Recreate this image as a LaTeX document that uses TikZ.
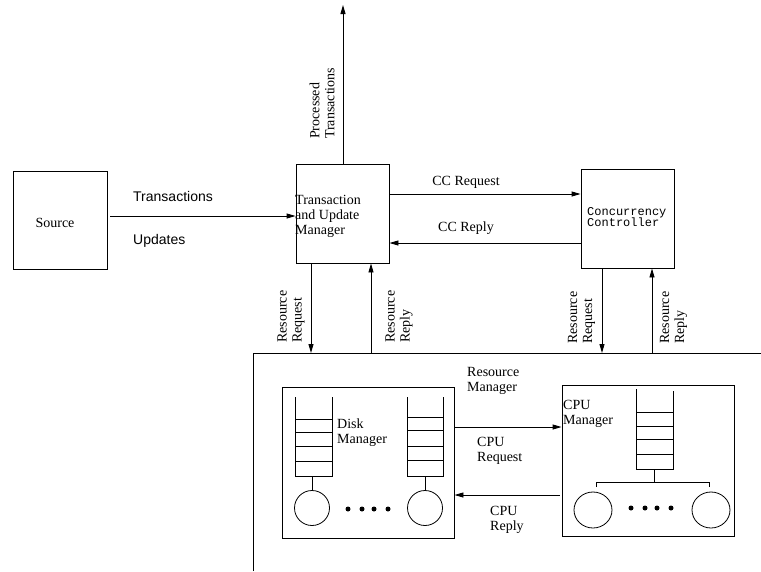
\documentclass[tikz,border=0pt]{standalone}
\usepackage{fontspec}
\setmainfont{Liberation Serif}
\setsansfont{Liberation Sans}
\setmonofont{Liberation Mono}
\usetikzlibrary{arrows.meta,calc,shapes.geometric}
\begin{document}
\begin{tikzpicture}[x=1pt,y=-1pt,
  box/.style={draw,line width=0.9pt,inner sep=0pt},
  ln/.style={line width=0.9pt},
  arr/.style={line width=0.9pt,-{Triangle[length=9pt,width=5pt]}},
  lbl/.style={font=\fontsize{14}{15}\selectfont,inner sep=0pt,align=left},
  slbl/.style={font=\sffamily\fontsize{14}{15}\selectfont,inner sep=0pt,align=left},
  tlbl/.style={font=\ttfamily\fontsize{12}{11.5}\selectfont,inner sep=0pt,align=left},
  rlbl/.style={lbl,rotate=90,anchor=west},
  dot/.style={circle,fill,inner sep=0pt,minimum size=5pt}]
\useasboundingbox (0,0) rectangle (761,571);

% main boxes
\node[box,minimum width=94pt,minimum height=98pt] (src) at (60,220) {};
\node[lbl] (srct) at (55,223) {Source};
\node[box,minimum width=93pt,minimum height=99pt] (tum) at (342.5,213.5) {};
\node[lbl,anchor=west] (tumt) at (295,216) {Transaction\\and Update\\Manager};
\node[box,minimum width=93pt,minimum height=99pt] (cc) at (627.5,218.5) {};
\node[tlbl,anchor=west] (cct) at (587,217) {Concurrency\\Controller};

% processed transactions
\coordinate (out) at (343,5);
\draw[arr] (tum.north -| out) -- (out);
\node[rlbl] (ptl) at (322,139) {Processed\\Transactions};

% source -> tum
\coordinate (srcy) at (0,216);
\draw[arr] ([xshift=3pt]src.east |- srcy) -- (tum.west |- srcy);
\node[slbl,anchor=west] (trl) at (133,196) {Transactions};
\node[slbl,anchor=west] (upl) at (133,241) {Updates};

% CC request / reply
\coordinate (ccq) at (0,194);
\coordinate (ccr) at (0,243);
\draw[arr] (tum.east |- ccq) -- (cc.west |- ccq);
\draw[arr] (cc.west |- ccr) -- (tum.east |- ccr);
\node[lbl] (ccql) at (466,182) {CC Request};
\node[lbl] (ccrl) at (466,228) {CC Reply};

% resource manager open frame
\draw[ln] (253,571) -- (253,353) -- (761,353);
\coordinate (rq1) at (311,353);
\coordinate (rp1) at (371,353);
\coordinate (rq2) at (602,353);
\coordinate (rp2) at (652,353);
\draw[arr] (tum.south -| rq1) -- (rq1);
\draw[arr] (rp1) -- (tum.south -| rp1);
\draw[arr] (cc.south -| rq2) -- (rq2);
\draw[arr] (rp2) -- (cc.south -| rp2);
\node[rlbl] (rq1l) at (291,343) {Resource\\Request};
\node[rlbl] (rp1l) at (399,343) {Resource\\Reply};
\node[rlbl] (rq2l) at (581.5,344) {Resource\\Request};
\node[rlbl] (rp2l) at (673.5,344) {Resource\\Reply};
\node[lbl,anchor=west] (rml) at (467,381) {Resource\\Manager};

% disk manager
\node[box,minimum width=172pt,minimum height=151pt] (disk) at (368,462.5) {};
\node[lbl,anchor=west] (dml) at (337,433) {Disk\\Manager};
\draw[ln] (295,397) -- (295,476) -- (332,476) -- (332,397);
\foreach \y in {419,432,446,461} \draw[ln] (295,\y) -- (332,\y);
\draw[ln] (407,397) -- (407,476) -- (443,476) -- (443,397);
\foreach \y in {417,430,446,460} \draw[ln] (407,\y) -- (443,\y);
\node[draw,line width=0.8pt,circle,minimum size=35pt,inner sep=0pt] (d1) at (312,508) {};
\node[draw,line width=0.8pt,circle,minimum size=35pt,inner sep=0pt] (d2) at (425,508) {};
\draw[ln] (312,476) -- (d1.north);
\draw[ln] (425,476) -- (d2.north);
\foreach \x [count=\i] in {348,362,374,388} \node[dot] (dd\i) at (\x,509) {};

% cpu manager
\node[box,minimum width=172pt,minimum height=151pt] (cpu) at (648,460.5) {};
\node[lbl,anchor=west] (cml) at (563,414) {CPU\\Manager};
\draw[ln] (636,389) -- (636,469) -- (673,469) -- (673,391);
\foreach \y in {412,426,439,454} \draw[ln] (636,\y) -- (673,\y);
\draw[ln] (654,469) -- (654,482);
\draw[ln] (596,487) -- (596,482) -- (709,482) -- (709,487);
\node[draw,line width=0.8pt,ellipse,minimum width=38pt,minimum height=36pt,inner sep=0pt] (c1) at (593,510) {};
\node[draw,line width=0.8pt,ellipse,minimum width=38pt,minimum height=36pt,inner sep=0pt] (c2) at (711,510) {};
\foreach \x [count=\i] in {631,645,657,671} \node[dot] (cd\i) at (\x,508) {};

% cpu request / reply
\coordinate (cpq) at (0,427);
\coordinate (cpr) at (0,495);
\draw[arr] (disk.east |- cpq) -- (cpu.west |- cpq);
\draw[arr] ([xshift=-2pt]cpu.west |- cpr) -- (disk.east |- cpr);
\node[lbl,anchor=west] (cpql) at (477,451) {CPU\\Request};
\node[lbl,anchor=west] (cprl) at (490,520) {CPU\\Reply};
\end{tikzpicture}
\end{document}
